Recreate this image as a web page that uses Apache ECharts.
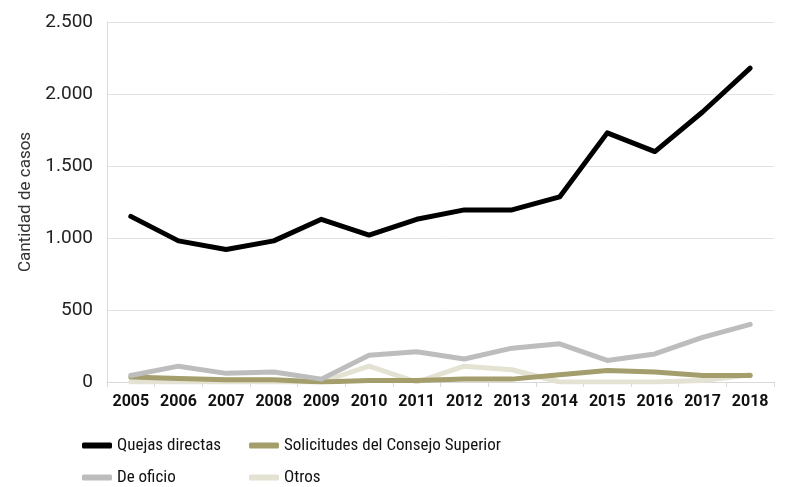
<!DOCTYPE html>
<html><head><meta charset="utf-8">
<script src="https://cdn.jsdelivr.net/npm/echarts@6/dist/echarts.min.js"></script>
<style>html,body{margin:0;padding:0;background:#fff}#c{width:788px;height:487px}</style>
</head><body><div id="c"></div>
<script>
const years = ['2005','2006','2007','2008','2009','2010','2011','2012','2013','2014','2015','2016','2017','2018'];
const quejasDirectas = [1150, 980, 920, 980, 1130, 1020, 1130, 1195, 1195, 1285, 1730, 1600, 1875, 2180];
const deOficio = [45, 110, 60, 70, 20, 185, 210, 160, 235, 265, 150, 195, 310, 400];
const solicitudesConsejo = [35, 25, 15, 15, 0, 10, 10, 20, 20, 50, 80, 70, 45, 45];
const otros = [0, 0, 0, 0, 0, 110, 0, 110, 85, 0, 0, 0, 10, 50];

const chart = echarts.init(document.getElementById('c'));
const fmt = v => String(v).replace(/\B(?=(\d{3})+(?!\d))/g, '.');
function line(name, data, color, z) {
  return { name, type: 'line', data, symbol: 'none', z,
    lineStyle: { color, width: 5, cap: 'round', join: 'round' }, itemStyle: { color } };
}
const legendText = { fontFamily: "'Roboto Condensed', Roboto", fontSize: 17, color: '#111' };
function leg(name, left, top) {
  return { left, top, icon: 'roundRect', itemWidth: 30, itemHeight: 6, itemGap: 0,
    padding: 0, textStyle: legendText, data: [name] };
}
chart.setOption({
  animation: false,
  grid: { left: 107, right: 14, top: 22, bottom: 105 },
  xAxis: {
    type: 'category', data: years, boundaryGap: true,
    axisLine: { lineStyle: { color: '#d9d9d9' } },
    axisTick: { show: true, lineStyle: { color: '#d9d9d9' }, length: 5 },
    axisLabel: { fontFamily: 'Roboto', fontWeight: 'bold', fontSize: 16, color: '#111', margin: 12, interval: 0 }
  },
  yAxis: {
    type: 'value', min: 0, max: 2500, interval: 500,
    name: 'Cantidad de casos', nameLocation: 'middle', nameGap: 72,
    nameTextStyle: { fontFamily: 'Roboto', fontSize: 17, color: '#333' },
    axisLine: { show: true, lineStyle: { color: '#d9d9d9' } },
    splitLine: { lineStyle: { color: '#e3e3e3' } },
    axisLabel: { fontFamily: 'Roboto', fontSize: 19, color: '#222', margin: 14, formatter: fmt }
  },
  legend: [
    leg('Quejas directas', 82, 437),
    leg('De oficio', 82, 469),
    leg('Solicitudes del Consejo Superior', 249, 437),
    leg('Otros', 249, 469)
  ],
  series: [
    line('Quejas directas', quejasDirectas, '#000000', 5),
    line('Solicitudes del Consejo Superior', solicitudesConsejo, '#a39e6c', 3),
    line('De oficio', deOficio, '#bdbdbd', 4),
    line('Otros', otros, '#e4e2d2', 2)
  ]
});
</script></body></html>
